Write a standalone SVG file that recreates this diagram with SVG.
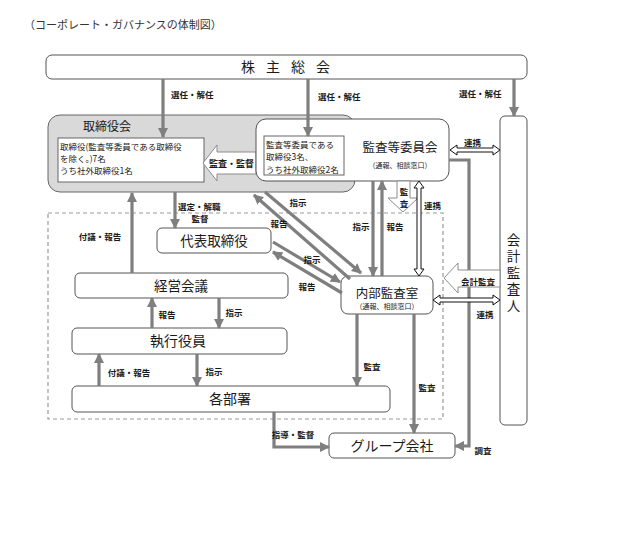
<svg xmlns="http://www.w3.org/2000/svg" width="619" height="545" viewBox="0 0 619 545">
<style>
text{font-family:"Noto Sans CJK JP","Noto Sans",sans-serif;fill:#1a1a1a}
.box{fill:#fff;stroke:#555;stroke-width:1}
.big{font-size:14px;text-anchor:middle}
.lbl{font-size:8.5px;font-weight:bold}
.in{font-size:8.5px}
.g{fill:none;stroke:#7f7f7f;stroke-width:3.2;marker-end:url(#ah)}
.hollow{fill:#fff;stroke:#8c8c8c;stroke-width:1}
.dbl{fill:#fff;stroke:#111;stroke-width:1}
</style>
<defs>
<marker id="ah" markerUnits="userSpaceOnUse" markerWidth="10" markerHeight="10" refX="9" refY="5" orient="auto">
<path d="M0,0 L10,5 L0,10 z" fill="#7f7f7f"/>
</marker>
</defs>
<rect width="619" height="545" fill="#fff"/>
<text x="24" y="29" style="font-size:11px;fill:#333">（コーポレート・ガバナンスの体制図）</text>

<g id="dashed-area"><rect x="48" y="213" width="395" height="206" fill="none" stroke="#999" stroke-width="1.2" stroke-dasharray="4,3"/></g>

<g id="shareholders">
<rect class="box" x="46" y="55" width="481" height="24" rx="6"/>
<text x="291" y="72" class="big" style="letter-spacing:11px">株主総会</text>
</g>

<g id="board">
<rect x="48" y="115" width="307" height="77" rx="12" fill="#d9d9d9" stroke="#666" stroke-width="1"/>
<text x="83" y="131" style="font-size:12px">取締役会</text>
<rect x="58" y="138" width="146" height="44" fill="#fff" stroke="#666" stroke-width="1"/>
<text x="60" y="149.5" class="in">取締役(監査等委員である取締役</text>
<text x="60" y="161.5" class="in">を除く。)7名</text>
<text x="60" y="174" class="in">うち社外取締役1名</text>
</g>

<g id="audit-arrow">
<polygon class="hollow" points="256,152 217,152 217,145 203,163 217,181 217,174 256,174"/>
<text x="209" y="167" class="lbl" style="font-size:9px">監査・監督</text>
</g>

<g id="audit-committee">
<rect class="box" x="256" y="119" width="193" height="62" rx="10"/>
<rect x="264" y="136" width="80" height="39" fill="#fff" stroke="#666" stroke-width="1"/>
<text x="266" y="147.5" class="in">監査等委員である</text>
<text x="266" y="160" class="in">取締役3名、</text>
<text x="266" y="172.5" class="in">うち社外取締役2名</text>
<text x="400" y="152" style="font-size:12.5px;text-anchor:middle">監査等委員会</text>
<text x="400" y="168" style="font-size:7px;text-anchor:middle">（通報、相談窓口）</text>
</g>

<g id="accounting-auditor">
<rect class="box" x="500" y="116" width="27" height="309" rx="5"/>
<text x="513.5" y="274" style="font-size:13.5px;text-anchor:middle;writing-mode:vertical-rl;letter-spacing:3px">会計監査人</text>
</g>

<g id="representative">
<rect class="box" x="157" y="228" width="114" height="25" rx="5"/>
<text x="214" y="246" class="big" style="font-size:13.5px">代表取締役</text>
</g>

<g id="management-meeting">
<rect class="box" x="75" y="273" width="213" height="25" rx="5"/>
<text x="181" y="291" class="big" style="font-size:13.5px">経営会議</text>
</g>

<g id="executive-officers">
<rect class="box" x="72" y="328" width="215" height="26" rx="5"/>
<text x="178" y="346" class="big">執行役員</text>
</g>

<g id="departments">
<rect class="box" x="72" y="386" width="318" height="26" rx="5"/>
<text x="230" y="404" class="big">各部署</text>
</g>

<g id="internal-audit">
<rect class="box" x="341" y="276" width="92" height="38" rx="7"/>
<text x="387" y="298" style="font-size:12.5px;text-anchor:middle">内部監査室</text>
<text x="387" y="309" style="font-size:7px;text-anchor:middle">（通報、相談窓口）</text>
</g>

<g id="group-companies">
<rect class="box" x="329" y="433" width="126" height="25" rx="5"/>
<text x="392" y="451" class="big">グループ会社</text>
</g>

<g id="connectors">
<path class="g" d="M163,79 V137"/>
<path class="g" d="M308,79 V136"/>
<path class="g" d="M514,79 V116"/>
<path class="g" d="M175,192 V228"/>
<path class="g" d="M132,273 V193"/>
<path class="g" d="M373,181 V276"/>
<path class="g" d="M382,276 V181"/>
<path class="g" d="M152,328 V298"/>
<path class="g" d="M219,298 V328"/>
<path class="g" d="M99,386 V354"/>
<path class="g" d="M197,354 V386"/>
<path class="g" d="M357,314 V386"/>
<path class="g" d="M414,314 V433"/>
<path class="g" d="M274,412 V447 H329"/>
<path class="g" d="M449,160 H469 V446 H455"/>
<path class="g" d="M265,192 L361,273"/>
<path class="g" d="M350,279 L254,195"/>
<path class="g" d="M273,242 L340,282"/>
<path class="g" d="M342,293 L273,252"/>

<polygon class="hollow" points="397,181 410,181 410,198 418,198 403,212 388,198 397,198"/>
<polygon class="hollow" points="500,270 458,270 458,263 444,278 458,293 458,287 500,287"/>

<polygon class="dbl" points="450,150 457,145 457,148 493,148 493,145 500,150 493,155 493,152 457,152 457,155"/>
<polygon class="dbl" points="419,181 424,188 421,188 421,269 424,269 419,276 414,269 417,269 417,188 414,188"/>
<polygon class="dbl" points="433,300 440,295 440,298 493,298 493,295 500,300 493,305 493,302 440,302 440,305"/>

<text x="171" y="98" class="lbl">選任・解任</text>
<text x="318" y="100" class="lbl">選任・解任</text>
<text x="459" y="97" class="lbl">選任・解任</text>
<text x="464" y="146" class="lbl">連携</text>
<text x="404" y="195" class="lbl" style="text-anchor:middle">監</text>
<text x="404" y="207" class="lbl" style="text-anchor:middle">査</text>
<text x="424" y="209" class="lbl">連携</text>
<text x="178" y="210" class="lbl">選定・解職</text>
<text x="200" y="222" class="lbl" style="text-anchor:middle">監督</text>
<text x="100" y="240" class="lbl" style="text-anchor:middle">付議・報告</text>
<text x="298" y="206" class="lbl" style="text-anchor:middle">指示</text>
<text x="279" y="227" class="lbl" style="text-anchor:middle">報告</text>
<text x="361" y="230" class="lbl" style="text-anchor:middle">指示</text>
<text x="395" y="230" class="lbl" style="text-anchor:middle">報告</text>
<text x="312" y="263" class="lbl" style="text-anchor:middle">指示</text>
<text x="307" y="290" class="lbl" style="text-anchor:middle">報告</text>
<text x="478" y="285" class="lbl" style="text-anchor:middle">会計監査</text>
<text x="485" y="318" class="lbl" style="text-anchor:middle">連携</text>
<text x="167" y="318" class="lbl" style="text-anchor:middle">報告</text>
<text x="234" y="316" class="lbl" style="text-anchor:middle">指示</text>
<text x="129" y="376" class="lbl" style="text-anchor:middle">付議・報告</text>
<text x="214" y="375" class="lbl" style="text-anchor:middle">指示</text>
<text x="372" y="370" class="lbl" style="text-anchor:middle">監査</text>
<text x="427" y="391" class="lbl" style="text-anchor:middle">監査</text>
<text x="293" y="438" class="lbl" style="text-anchor:middle">指導・監督</text>
<text x="483" y="454" class="lbl" style="text-anchor:middle">調査</text>
</g>
</svg>
